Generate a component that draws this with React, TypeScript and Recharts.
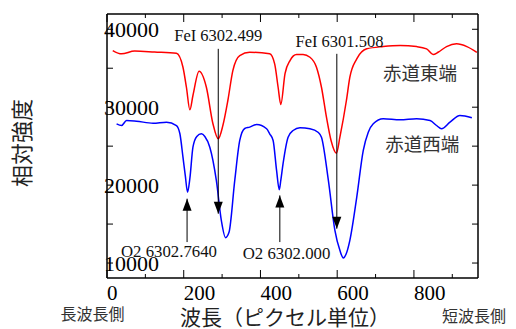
import React from 'react';
import { LineChart, Line, XAxis, YAxis, ReferenceLine, ReferenceDot } from 'recharts';

// 赤道東端 (red)
const eastX = [15, 38, 72, 124, 181, 198, 207, 216, 224, 240, 259, 276, 290, 302, 315, 328, 346, 372, 424, 437, 446, 453, 464, 477, 494, 511, 529, 546, 559, 572, 584, 598, 607, 624, 633, 651, 677, 720, 764, 807, 833, 850, 863, 885, 911, 938, 964];
const eastY = [37270, 36850, 37200, 37080, 36920, 35130, 32560, 29670, 31500, 34610, 32560, 27910, 25950, 27650, 30860, 34700, 36630, 37050, 36850, 35560, 32560, 30350, 34320, 35990, 36760, 36760, 36410, 35130, 32560, 28720, 25730, 24100, 26150, 30860, 33850, 36200, 37490, 37780, 37910, 37780, 37490, 36760, 37050, 37780, 38130, 37780, 37050];

// 赤道西端 (blue)
const westX = [25, 38, 51, 77, 120, 155, 181, 190, 198, 204, 210, 216, 224, 234, 246, 255, 268, 285, 298, 309, 318, 333, 346, 359, 372, 390, 416, 424, 433, 442, 449, 453, 459, 472, 485, 503, 529, 550, 559, 577, 594, 607, 616, 623, 633, 651, 668, 681, 694, 720, 764, 807, 842, 859, 872, 894, 920, 951];
const westY = [27870, 27650, 28290, 28200, 27950, 28080, 27650, 26590, 23590, 21240, 19100, 20860, 24870, 26240, 26590, 26240, 24870, 20600, 15470, 13260, 13940, 20600, 25730, 27270, 27440, 27780, 27230, 26590, 25730, 21880, 19410, 20600, 22780, 26150, 27010, 27360, 27230, 26790, 26150, 20600, 14190, 11630, 10640, 11120, 12910, 18460, 24450, 26790, 27870, 28510, 28380, 28510, 28290, 27650, 27230, 28080, 28940, 28640];

const xTicks = [0, 100, 200, 300, 400, 500, 600, 700, 800, 900];
const yTicks = [10000, 15000, 20000, 25000, 30000, 35000, 40000];
const xDomain = [0, 967];
const yDomain = [8080, 41960];

// annotations
const arrowLabels = ['FeI 6302.499', 'FeI 6301.508', 'O2 6302.7640', 'O2 6302.000'];
const arrowX = [290, 599, 208.7, 450.5];
const arrowFrom = [37490, 36850, 12690, 12690];
const arrowTo = [16330, 14410, 18260, 18680];
const labelX = [290, 606, 161.5, 468];
const labelY = [38460, 37780, 10770, 10470];
const labelSize = [16.5, 16.5, 16.8, 16.8];

const seriesNames = ['赤道東端', '赤道西端'];
const seriesColors = ['#ff0000', '#0000ff'];
const nameX = [816, 822];
const nameY = [34280, 25220];

const eastData = eastX.map((x, i) => ({ x, y: eastY[i] }));
const westData = westX.map((x, i) => ({ x, y: westY[i] }));

const SERIF = '"Liberation Serif", "Times New Roman", serif';
const CJK = '"Noto Sans CJK JP", "Noto Sans CJK SC", sans-serif';

const BottomTick = (props: any) => {
  const { x, y, payload } = props;
  const major = payload.value % 200 === 0;
  return (
    <g>
      <line x1={x} y1={y} x2={x} y2={y - (major ? 8 : 4)} stroke="#000" strokeWidth={1} />
      {major && (
        <text x={x} y={y + 22} textAnchor="start" fontSize={21} fontFamily={SERIF} fill="#000">
          {payload.value}
        </text>
      )}
    </g>
  );
};

const TopTick = (props: any) => {
  const { x, y, payload } = props;
  const major = payload.value % 200 === 0;
  return <line x1={x} y1={y} x2={x} y2={y + (major ? 8 : 4)} stroke="#000" strokeWidth={1} />;
};

const LeftTick = (props: any) => {
  const { x, y, payload } = props;
  const major = payload.value % 10000 === 0;
  return (
    <g>
      <line x1={x} y1={y} x2={x + 6} y2={y} stroke="#000" strokeWidth={1} />
      {major && (
        <text x={x - 3} y={y} dy="0.34em" textAnchor="start" fontSize={22} fontFamily={SERIF} fill="#000">
          {payload.value}
        </text>
      )}
    </g>
  );
};

const RightTick = (props: any) => {
  const { x, y } = props;
  return <line x1={x} y1={y} x2={x - 6} y2={y} stroke="#000" strokeWidth={1} />;
};

const axisLine = { stroke: '#000', strokeWidth: 1.5 };

export default function App() {
  return (
    <div style={{ position: 'absolute', left: 0, top: 0, width: 516, height: 329, background: '#fff' }}>
      <LineChart
        width={516}
        height={329}
        margin={{ top: 4, right: 28, bottom: 21, left: 47 }}
      >
        <XAxis xAxisId="b" dataKey="x" type="number" orientation="bottom" domain={xDomain} ticks={xTicks}
          allowDataOverflow height={30} tickSize={0} tickMargin={0} axisLine={axisLine} tickLine={false}
          tick={<BottomTick />} interval={0} />
        <XAxis xAxisId="t" dataKey="x" type="number" orientation="top" domain={xDomain} ticks={xTicks}
          allowDataOverflow height={10} tickSize={0} tickMargin={0} axisLine={axisLine} tickLine={false}
          tick={<TopTick />} interval={0} />
        <YAxis yAxisId="l" type="number" orientation="left" domain={yDomain} ticks={yTicks}
          allowDataOverflow width={60} tickSize={0} tickMargin={0} axisLine={axisLine} tickLine={false}
          tick={<LeftTick />} interval={0} />
        <YAxis yAxisId="r" type="number" orientation="right" domain={yDomain} ticks={yTicks}
          allowDataOverflow width={10} tickSize={0} tickMargin={0} axisLine={axisLine} tickLine={false}
          tick={<RightTick />} interval={0} />

        <Line xAxisId="b" yAxisId="l" data={eastData} dataKey="y" type="monotone" stroke={seriesColors[0]}
          strokeWidth={1.5} dot={false} isAnimationActive={false} />
        <Line xAxisId="b" yAxisId="l" data={westData} dataKey="y" type="monotone" stroke={seriesColors[1]}
          strokeWidth={1.5} dot={false} isAnimationActive={false} />

        {arrowX.map((ax, i) => (
          <ReferenceLine key={'al' + i} xAxisId="b" yAxisId="l"
            segment={[{ x: ax, y: arrowFrom[i] }, { x: ax, y: arrowTo[i] }]}
            stroke="#000" strokeWidth={1} />
        ))}
        {arrowX.map((ax, i) => {
          const down = arrowTo[i] < arrowFrom[i];
          return (
            <ReferenceDot key={'ah' + i} xAxisId="b" yAxisId="l" x={ax} y={arrowTo[i]}
              shape={(p: any) => {
                const s = down ? -1 : 1;
                return (
                  <path d={`M${p.cx},${p.cy} L${p.cx - 4.5},${p.cy + s * 12} L${p.cx + 4.5},${p.cy + s * 12} Z`} fill="#000" />
                );
              }} />
          );
        })}
        {arrowLabels.map((t, i) => (
          <ReferenceDot key={'tl' + i} xAxisId="b" yAxisId="l" x={labelX[i]} y={labelY[i]}
            shape={(p: any) => (
              <text x={p.cx} y={p.cy} textAnchor="middle" fontSize={labelSize[i]} fontFamily={SERIF} fill="#111">{t}</text>
            )} />
        ))}
        {seriesNames.map((t, i) => (
          <ReferenceDot key={'sn' + i} xAxisId="b" yAxisId="l" x={nameX[i]} y={nameY[i]}
            shape={(p: any) => (
              <text x={p.cx} y={p.cy} dy="0.35em" textAnchor="middle" fontSize={18.5} fontFamily={CJK} fill="#333">{t}</text>
            )} />
        ))}
      </LineChart>
      <svg width={516} height={329} style={{ position: 'absolute', left: 0, top: 0, pointerEvents: 'none' }}>
        <text x={20} y={143} transform="rotate(-90, 20, 143)" textAnchor="middle" dominantBaseline="central"
          fontSize={22} fontFamily={CJK} fill="#222">相対強度</text>
        <text x={285} y={316} textAnchor="middle" dominantBaseline="central" fontSize={21} fontFamily={CJK} fill="#222">波長（ピクセル単位）</text>
        <text x={92.5} y={313} textAnchor="middle" dominantBaseline="central" fontSize={16} fontFamily={CJK} fill="#333">長波長側</text>
        <text x={474} y={315} textAnchor="middle" dominantBaseline="central" fontSize={16} fontFamily={CJK} fill="#333">短波長側</text>
      </svg>
    </div>
  );
}
